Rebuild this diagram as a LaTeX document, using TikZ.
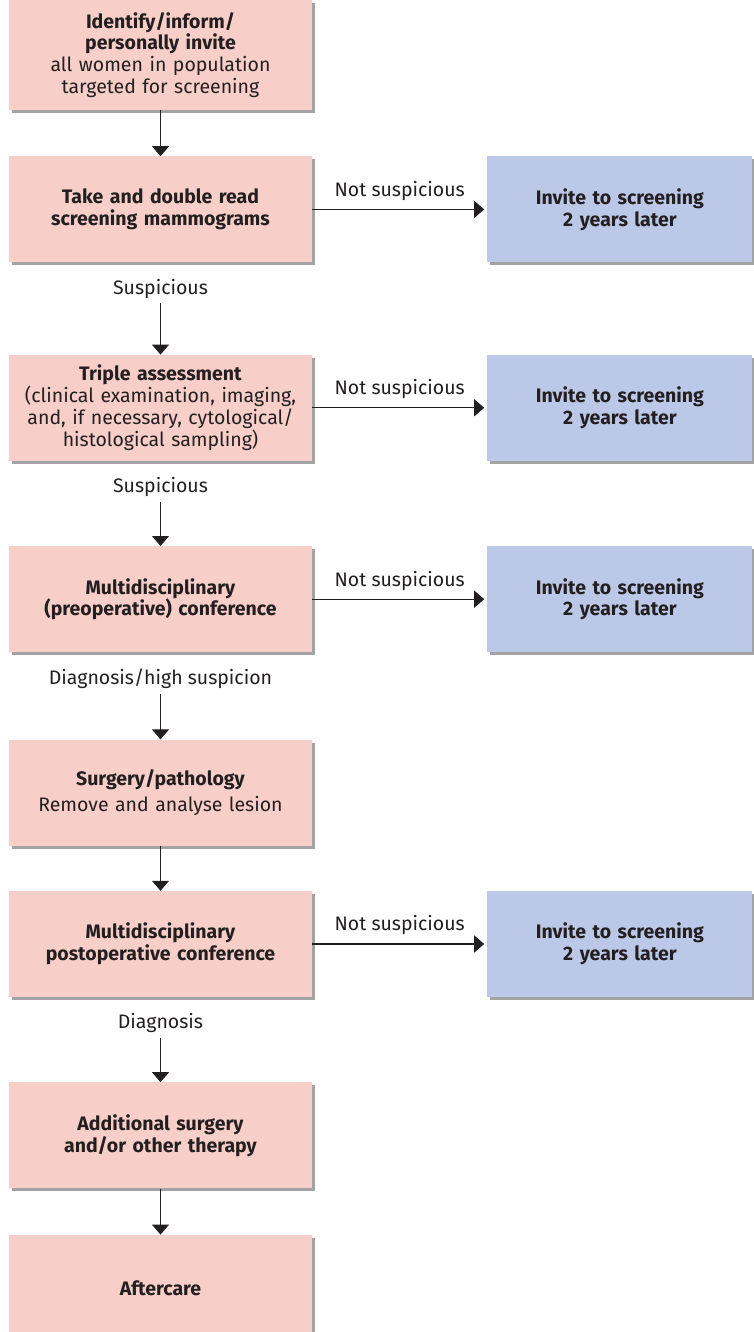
\documentclass[tikz,border=0pt]{standalone}
\usepackage{fontspec}
\setmainfont{Fira Sans}
\usepackage{xcolor}
\usetikzlibrary{arrows.meta,positioning,shadows}
\definecolor{stepred}{RGB}{247,206,200}
\definecolor{inviteblue}{RGB}{188,200,232}
\definecolor{inkgray}{RGB}{35,31,32}

\begin{document}
\begin{tikzpicture}[node distance=46pt, font=\fontsize{19.5}{21.8}\selectfont, text=inkgray]
        \tikzset{stepbox/.style={rectangle, fill=stepred, text width=295pt, inner xsep=4pt, align=center, minimum height=106pt, drop shadow={shadow xshift=3pt, shadow yshift=-3pt, opacity=0.45, fill=black!80}}}
        \tikzset{invitebox/.style={rectangle, fill=inviteblue, text width=257pt, inner xsep=4pt, align=center, minimum height=106pt, font=\fontsize{19.5}{21.8}\selectfont\bfseries, drop shadow={shadow xshift=3pt, shadow yshift=-3pt, opacity=0.45, fill=black!80}}}
        \tikzset{lbl/.style={inner sep=0pt}}
        \tikzset{flow/.style={-{Triangle[width=17pt,length=10pt]}, line width=1.1pt, draw=inkgray}}

        \useasboundingbox (0,0) rectangle (754pt,-1332pt);

        % Screening pathway
        \node [stepbox, minimum height=110pt] (invite) at (160.5pt,-55pt) {\textbf{Identify/inform/}\\\textbf{personally invite}\\all women in population\\targeted for screening};
        \node [stepbox, below=46pt of invite] (mammo) {\textbf{Take and double read}\\\textbf{screening mammograms}};
        \node [lbl, below=16pt of mammo] (susp1) {Suspicious};
        \node [stepbox, below=92pt of mammo] (triple) {\textbf{Triple assessment}\\(clinical examination, imaging,\\and, if necessary, cytological/\\histological sampling)};
        \node [lbl, below=16pt of triple] (susp2) {Suspicious};
        \node [stepbox, below=85pt of triple] (preop) {\textbf{Multidisciplinary}\\\textbf{(preoperative) conference}};
        \node [lbl, below=16pt of preop] (diag1) {Diagnosis/high suspicion};
        \node [stepbox, below=87pt of preop] (surgery) {\textbf{Surgery/pathology}\\[5pt]Remove and analyse lesion};
        \node [stepbox, below=45pt of surgery] (postop) {\textbf{Multidisciplinary}\\\textbf{postoperative conference}};
        \node [lbl, below=16pt of postop] (diag2) {Diagnosis};
        \node [stepbox, below=85pt of postop] (therapy) {\textbf{Additional surgery}\\\textbf{and/or other therapy}};
        \node [stepbox, below=46pt of therapy] (aftercare) {\textbf{Aftercare}};

        % Re-invitation boxes
        \node [invitebox, right=175pt of mammo] (again1) {Invite to screening\\2 years later};
        \node [invitebox, right=175pt of triple] (again2) {Invite to screening\\2 years later};
        \node [invitebox, right=175pt of preop] (again3) {Invite to screening\\2 years later};
        \node [invitebox, right=175pt of postop] (again4) {Invite to screening\\2 years later};

        % Vertical flow
        \draw [flow] (invite) -- (mammo);
        \draw [flow, shorten <=5pt] (susp1) -- (triple);
        \draw [flow, shorten <=5pt] (susp2) -- (preop);
        \draw [flow, shorten <=5pt] (diag1) -- (surgery);
        \draw [flow] (surgery) -- (postop);
        \draw [flow, shorten <=5pt] (diag2) -- (therapy);
        \draw [flow] (therapy) -- (aftercare);

        % Not suspicious branches
        \draw [flow, shorten >=3pt] (mammo) -- node [above=5pt] {Not suspicious} (again1);
        \draw [flow, shorten >=3pt] (triple) -- node [above=5pt] {Not suspicious} (again2);
        \draw [flow, shorten >=3pt] (preop) -- node [above=5pt] {Not suspicious} (again3);
        \draw [flow, shorten >=3pt] (postop) -- node [above=5pt] {Not suspicious} (again4);
    \end{tikzpicture}
\end{document}
